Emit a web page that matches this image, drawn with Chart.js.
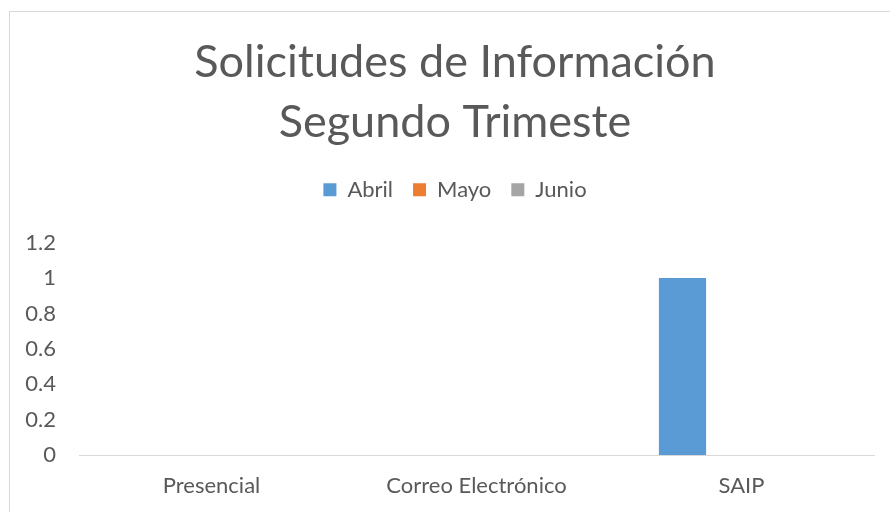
<!DOCTYPE html>
<html>
<head>
<meta charset="utf-8">
<script src="https://cdn.jsdelivr.net/npm/chart.js@4"></script>
<style>
  body { margin:0; background:#fff; }
  #wrap { position:relative; width:890px; height:512px; }
  #frame { position:absolute; left:9px; top:11px; width:890px; height:520px; border:1px solid #d9d9d9; box-sizing:border-box; }
  canvas { position:absolute; left:0; top:0; }
</style>
</head>
<body>
<div id="wrap">
  <div id="frame"></div>
  <canvas id="c" width="890" height="512"></canvas>
</div>
<script>
// =======================
// DATA
// =======================
const categories = ['Presencial', 'Correo Electrónico', 'SAIP'];
const abril = [0, 0, 1];
const mayo  = [0, 0, 0];
const junio = [0, 0, 0];
const titleLines = ['Solicitudes de Información', 'Segundo Trimeste'];

const txt = '#595959';
const fontFam = 'Lato, "Open Sans", sans-serif';

const hidden = {
    grid: { display: false, drawTicks: false },
    border: { display: false },
    ticks: { display: false }
};

new Chart(document.getElementById('c'), {
    type: 'bar',
    data: {
        labels: categories,
        datasets: [
            { label: 'Abril', data: abril, backgroundColor: '#5B9BD5', xAxisID: 'x', yAxisID: 'y' },
            { label: 'Mayo',  data: mayo,  backgroundColor: '#ED7D31', xAxisID: 'x', yAxisID: 'y' },
            { label: 'Junio', data: junio, backgroundColor: '#A5A5A5', xAxisID: 'x', yAxisID: 'y' }
        ]
    },
    options: {
        responsive: false,
        animation: false,
        layout: { padding: { left: 20, right: 0, top: 0, bottom: 0 } },
        datasets: { bar: { categoryPercentage: 0.668, barPercentage: 0.8 } },
        plugins: {
            title: {
                display: true,
                text: titleLines,
                color: txt,
                font: { family: fontFam, size: 45, weight: 'normal', lineHeight: 1.33 },
                padding: { top: 33, bottom: 6 }
            },
            legend: {
                position: 'top',
                labels: {
                    color: txt,
                    font: { family: fontFam, size: 22 },
                    boxWidth: 13,
                    boxHeight: 13,
                    padding: 20
                }
            },
            tooltip: { enabled: false }
        },
        scales: {
            x: {
                grid: { display: false, drawTicks: false },
                border: { display: true, color: '#d9d9d9', width: 1 },
                ticks: { color: txt, font: { family: fontFam, size: 22 }, padding: 18 },
                afterFit(s) { s.height = 57; }
            },
            y: {
                min: 0,
                max: 1.2,
                grid: { display: false, drawTicks: false },
                border: { display: false },
                ticks: {
                    stepSize: 0.2,
                    color: txt,
                    font: { family: fontFam, size: 22 },
                    padding: 23,
                    callback: v => String(Math.round(v * 10) / 10)
                },
                afterFit(s) { s.width = 59; }
            },
            // empty spacers around the plot
            xTop: Object.assign({ type: 'category', position: 'top', afterFit(s) { s.height = 32; } }, hidden),
            yRight: Object.assign({ type: 'linear', position: 'right', afterFit(s) { s.width = 16; } }, hidden)
        }
    }
});
</script>
</body>
</html>
